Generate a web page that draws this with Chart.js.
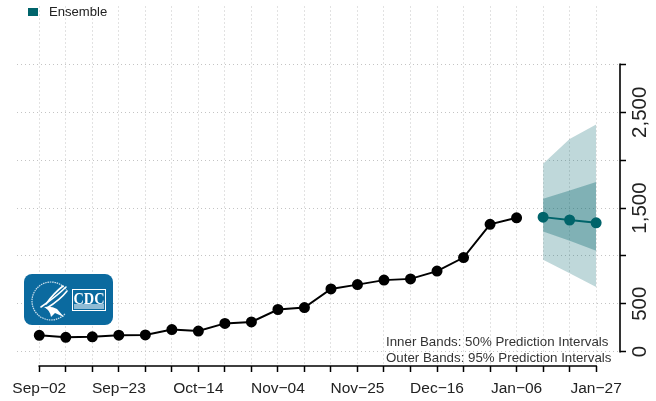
<!DOCTYPE html>
<html>
<head>
<meta charset="utf-8">
<style>
  html, body { margin: 0; padding: 0; background: #fff; }
  #wrap { width: 656px; height: 401px; }
</style>
<script src="https://cdn.jsdelivr.net/npm/chart.js@4/dist/chart.umd.min.js"></script>
</head>
<body>
<div id="wrap"><canvas id="chart" width="656" height="401"></canvas></div>
<script>
// weekly positions, the labels sit on every third one
const weekLabels = ['Sep\u221202', 'Sep\u221223', 'Oct\u221214', 'Nov\u221204', 'Nov\u221225', 'Dec\u221216', 'Jan\u221206', 'Jan\u221227'];
const weekTicks = [0, 1, 2, 3, 4, 5, 6, 7, 8, 9, 10, 11, 12, 13, 14, 15, 16, 17, 18, 19, 20, 21];
const yTickValues = [0, 500, 1000, 1500, 2000, 2500, 3000];
const yTickLabels = ['0', '500', '', '1,500', '', '2,500', ''];

const observedWeeks = [0, 1, 2, 3, 4, 5, 6, 7, 8, 9, 10, 11, 12, 13, 14, 15, 16, 17, 18];
const observed = [170, 150, 155, 172, 175, 230, 215, 295, 310, 440, 460, 655, 700, 747, 760, 841, 983, 1330, 1398];

const forecastWeeks = [19, 20, 21];
const ensemble = [1405, 1375, 1346];
const inner50Low = [1255, 1158, 1053];
const inner50High = [1597, 1684, 1772];
const outer95Low = [959, 820, 674];
const outer95High = [1963, 2222, 2372];

const noteLines = ['Inner Bands: 50% Prediction Intervals', 'Outer Bands: 95% Prediction Intervals'];
const TEAL = '#00646b';
const FONT = '"Liberation Sans", Arial, sans-serif';

const pts = (xs, ys) => xs.map((x, i) => ({ x: x, y: ys[i] }));

// R style axis lines: only run from first to last tick
const axisLines = {
  id: 'axisLines',
  afterDatasetsDraw(chart) {
    const { ctx, scales: { x, y } } = chart;
    ctx.save();
    ctx.strokeStyle = '#000';
    ctx.lineWidth = 1.6;
    ctx.beginPath();
    ctx.moveTo(x.getPixelForValue(0) - 0.8, x.top);
    ctx.lineTo(x.getPixelForValue(21) + 0.8, x.top);
    ctx.moveTo(y.left, y.getPixelForValue(0) + 0.8);
    ctx.lineTo(y.left, y.getPixelForValue(3000) - 0.8);
    ctx.stroke();
    ctx.restore();
  }
};

function drawLogo(ctx) {
  ctx.fillStyle = '#0b6a9f';
  ctx.beginPath();
  ctx.roundRect(24, 274, 89, 51, 8);
  ctx.fill();

  // seal ring
  ctx.strokeStyle = '#cfe2ee';
  ctx.lineWidth = 1.2;
  ctx.setLineDash([1.5, 0.8]);
  ctx.beginPath();
  ctx.arc(51, 301, 19, 0.75, Math.PI * 1.8);
  ctx.stroke();
  ctx.setLineDash([]);

  // eagle wings
  ctx.strokeStyle = '#fff';
  ctx.lineCap = 'round';
  ctx.lineWidth = 1.6;
  [[66, 287, 57, 296, 41, 307], [63, 286, 54, 293, 46, 304], [67, 291, 60, 300, 47, 308]].forEach(w => {
    ctx.beginPath();
    ctx.moveTo(w[0], w[1]);
    ctx.quadraticCurveTo(w[2], w[3], w[4], w[5]);
    ctx.stroke();
  });
  ctx.fillStyle = '#fff';
  ctx.beginPath();
  ctx.moveTo(44, 307);
  ctx.quadraticCurveTo(52, 306, 57, 309);
  ctx.lineTo(64, 317);
  ctx.lineTo(55, 313);
  ctx.lineTo(51, 317);
  ctx.quadraticCurveTo(50, 310, 44, 307);
  ctx.fill();

  // CDC box
  ctx.fillStyle = '#fff';
  ctx.fillRect(72, 289, 34, 22);
  ctx.fillStyle = '#0b6a9f';
  ctx.fillRect(73, 290, 32, 20);
  ctx.fillStyle = '#8fbbd4';
  ctx.fillRect(74, 304, 30, 5);
  ctx.fillStyle = '#fff';
  ctx.font = 'bold 17px "Liberation Serif", serif';
  ctx.textAlign = 'center';
  ctx.textBaseline = 'middle';
  ctx.fillText('CDC', 89, 299.5, 31);
}

// legend + note + logo
const extras = {
  id: 'extras',
  afterDraw(chart) {
    const ctx = chart.ctx;
    ctx.save();
    ctx.fillStyle = TEAL;
    ctx.fillRect(28, 8, 10, 8);
    ctx.fillStyle = '#222';
    ctx.font = '13.1px ' + FONT;
    ctx.textBaseline = 'middle';
    ctx.fillText('Ensemble', 49, 12.5);

    ctx.fillStyle = '#333';
    ctx.font = '13.3px ' + FONT;
    ctx.fillText(noteLines[0], 386, 342.5);
    ctx.fillText(noteLines[1], 386, 358.5);

    drawLogo(ctx);
    ctx.restore();
  }
};

new Chart(document.getElementById('chart'), {
  type: 'line',
  data: {
    datasets: [
      { data: pts(forecastWeeks, outer95Low), borderWidth: 0, pointRadius: 0, fill: false },
      { data: pts(forecastWeeks, outer95High), borderWidth: 0, pointRadius: 0, fill: '-1', backgroundColor: 'rgba(0,100,107,0.25)' },
      { data: pts(forecastWeeks, inner50Low), borderWidth: 0, pointRadius: 0, fill: false },
      { data: pts(forecastWeeks, inner50High), borderWidth: 0, pointRadius: 0, fill: '-1', backgroundColor: 'rgba(0,100,107,0.33)' },
      { data: pts(observedWeeks, observed), borderColor: '#000', backgroundColor: '#000', borderWidth: 2, pointRadius: 4.5, fill: false },
      { data: pts(forecastWeeks, ensemble), borderColor: TEAL, backgroundColor: TEAL, borderWidth: 2, pointRadius: 4.5, fill: false }
    ]
  },
  options: {
    responsive: false,
    animation: false,
    layout: { padding: { left: 17, right: 0, top: 0, bottom: 0 } },
    plugins: { legend: { display: false }, tooltip: { enabled: false } },
    scales: {
      x: {
        type: 'linear',
        min: -0.84,
        max: 21.9,
        afterFit(s) { s.height = 35; s.paddingLeft = 0; s.paddingRight = 0; },
        afterBuildTicks(s) { s.ticks = weekTicks.map(v => ({ value: v })); },
        ticks: {
          autoSkip: false,
          maxRotation: 0,
          padding: 7,
          color: '#222',
          font: { family: FONT, size: 15.5 },
          callback: v => (v % 3 === 0 ? weekLabels[v / 3] : '')
        },
        border: { display: false, dash: [1, 3] },
        grid: { color: '#c4c4c4', lineWidth: 1, drawTicks: true, tickLength: 6, tickColor: '#000', tickWidth: 1.5, tickBorderDash: [] }
      },
      y: {
        position: 'right',
        min: -150,
        max: 3605,
        afterFit(s) { s.width = 36; s.paddingTop = 0; s.paddingBottom = 0; },
        afterBuildTicks(s) { s.ticks = yTickValues.map(v => ({ value: v })); },
        ticks: {
          autoSkip: false,
          minRotation: 90,
          maxRotation: 90,
          crossAlign: 'center',
          padding: -11,
          color: '#222',
          font: { family: FONT, size: 20.5 },
          callback: v => yTickLabels[yTickValues.indexOf(v)]
        },
        border: { display: false, dash: [1, 3] },
        grid: { color: '#c4c4c4', lineWidth: 1, drawTicks: true, tickLength: 6, tickColor: '#000', tickWidth: 1.5, tickBorderDash: [] }
      }
    }
  },
  plugins: [axisLines, extras]
});
</script>
</body>
</html>
